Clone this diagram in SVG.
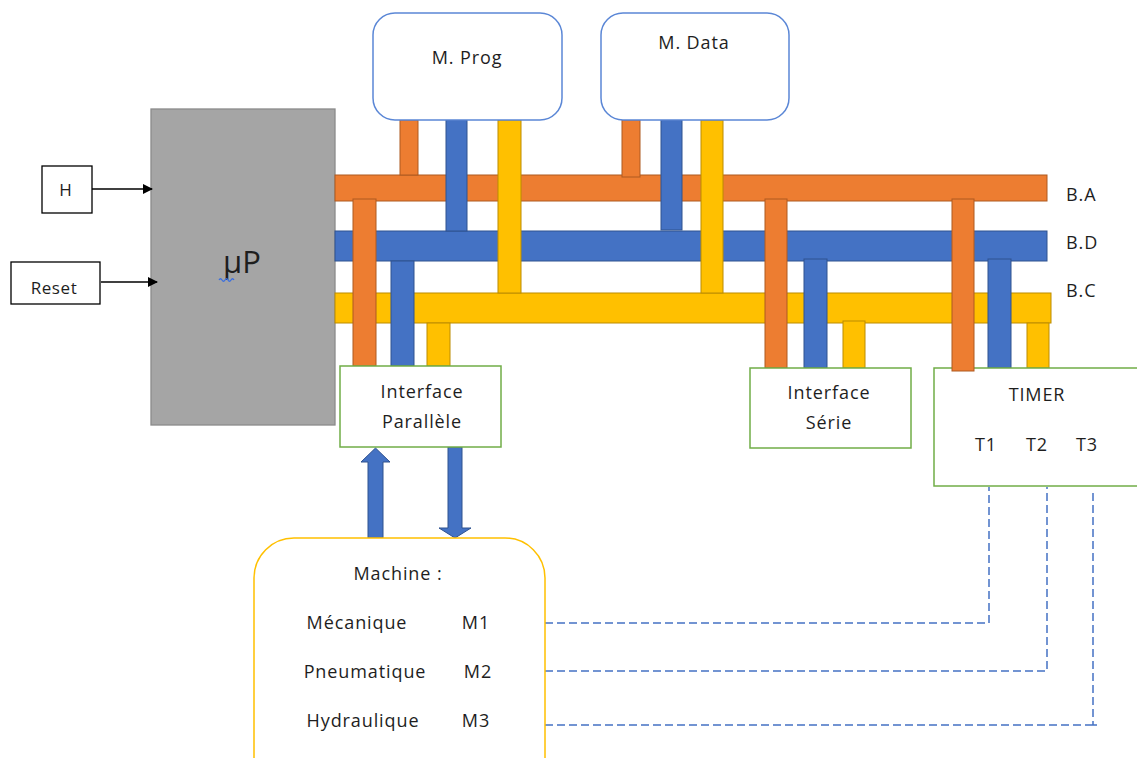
<svg xmlns="http://www.w3.org/2000/svg" width="1137" height="758" viewBox="0 0 1137 758">
<defs>
<style>
text{font-family:"Open Sans","Noto Sans","Liberation Sans",sans-serif;fill:#1e1e1e;font-size:18px;letter-spacing:0.9px}
.c{text-anchor:middle}
.or{fill:#ED7D31;stroke:#AE5A21;stroke-width:1}
.bl{fill:#4472C4;stroke:#2F528F;stroke-width:1}
.ye{fill:#FFC000;stroke:#BC8C00;stroke-width:1}
.mem{fill:#fff;stroke:#5B87D6;stroke-width:1.5}
.itf{fill:#fff;stroke:#70AD47;stroke-width:1.5}
.dash{fill:none;stroke:#4472C4;stroke-width:1.5;stroke-dasharray:8 4}
.wire{fill:none;stroke:#000;stroke-width:1.3}
</style>
<marker id="ah" viewBox="0 0 10 10" refX="9" refY="5" markerWidth="10" markerHeight="10" markerUnits="userSpaceOnUse" orient="auto">
<path d="M0,0 L10,5 L0,10 z" fill="#000"/>
</marker>
</defs>
<rect width="1137" height="758" fill="#fff"/>

<g id="H">
<rect x="42" y="166" width="50" height="47" fill="#fff" stroke="#000" stroke-width="1.3"/>
<text x="66" y="196" class="c" style="font-size:17px">H</text>
</g>
<g id="Reset">
<rect x="11" y="262" width="89" height="42" fill="#fff" stroke="#000" stroke-width="1.3"/>
<text x="54" y="294" class="c" style="font-size:17px;letter-spacing:0.6px">Reset</text>
</g>
<g id="uP">
<rect x="151" y="109" width="184" height="316" fill="#A5A5A5" stroke="#8A8A8A" stroke-width="1.3"/>
<text x="242" y="273" class="c" style="font-size:31px;letter-spacing:0">µP</text>
<path d="M219,280 q1.5,-2.5 3,0 t3,0 t3,0 t3,0 t3,0" fill="none" stroke="#3A6FE0" stroke-width="1.3"/>
</g>

<g id="connectors">
<line class="wire" x1="92" y1="189" x2="152" y2="189" marker-end="url(#ah)"/>
<line class="wire" x1="101" y1="282" x2="157" y2="282" marker-end="url(#ah)"/>
<!-- buses -->
<rect class="or" x="335" y="175" width="712" height="26"/>
<rect class="bl" x="335" y="231" width="712" height="30"/>
<rect class="ye" x="335" y="293" width="716" height="30"/>
<!-- memory stubs -->
<rect class="or" x="400" y="120" width="18" height="55"/>
<rect class="bl" x="446" y="120" width="21" height="111"/>
<rect class="ye" x="498" y="120" width="23" height="173"/>
<rect class="or" x="622" y="120" width="18" height="57"/>
<rect class="bl" x="661" y="120" width="21" height="110"/>
<rect class="ye" x="701" y="120" width="22" height="173"/>
<!-- interface parallele stubs -->
<rect class="or" x="353" y="199" width="23" height="167"/>
<rect class="bl" x="391" y="261" width="23" height="105"/>
<rect class="ye" x="427" y="323" width="23" height="43"/>
<!-- interface serie stubs -->
<rect class="or" x="765" y="199" width="22" height="169"/>
<rect class="bl" x="804" y="259" width="23" height="109"/>
<rect class="ye" x="843" y="321" width="22" height="47"/>
<!-- timer stubs -->
<rect class="bl" x="988" y="259" width="23" height="109"/>
<rect class="ye" x="1027" y="323" width="22" height="45"/>
<!-- block arrows -->
<polygon class="bl" points="375.5,448 390,462 383,462 383,538 368,538 368,462 361,462"/>
<polygon class="bl" points="448,447 462,447 462,528 471,528 455,538 439,528 448,528"/>
<!-- dashed timer links -->
<polyline class="dash" points="545,623 989,623 989,487"/>
<polyline class="dash" points="545,671 1047,671 1047,487"/>
<polyline class="dash" points="545,725 1097,725 1093,725 1093,491"/>
</g>

<g id="labels">
<text x="1066" y="201">B.A</text>
<text x="1066" y="249">B.D</text>
<text x="1066" y="297">B.C</text>
</g>

<g id="MProg">
<rect class="mem" x="373" y="13" width="189" height="107" rx="22"/>
<text x="467" y="64" class="c">M. Prog</text>
</g>
<g id="MData">
<rect class="mem" x="601" y="13" width="188" height="107" rx="22"/>
<text x="694" y="49" class="c">M. Data</text>
</g>
<g id="InterfaceParallele">
<rect class="itf" x="340" y="366" width="161" height="81"/>
<text x="422" y="398" class="c">Interface</text>
<text x="422" y="428" class="c">Parallèle</text>
</g>
<g id="InterfaceSerie">
<rect class="itf" x="750" y="368" width="161" height="80"/>
<text x="829" y="399" class="c">Interface</text>
<text x="829" y="429" class="c">Série</text>
</g>
<g id="TIMER">
<rect class="itf" x="934" y="368" width="210" height="118"/>
<text x="1037" y="401" class="c">TIMER</text>
<text x="986" y="451" class="c">T1</text>
<text x="1037" y="451" class="c">T2</text>
<text x="1087" y="451" class="c">T3</text>
<rect class="or" x="952" y="199" width="22" height="172"/>
</g>
<g id="Machine">
<rect x="254" y="538" width="291" height="260" rx="40" fill="#fff" stroke="#FFC000" stroke-width="1.5"/>
<text x="398" y="580" class="c">Machine :</text>
<text x="357" y="629" class="c">Mécanique</text>
<text x="476" y="629" class="c">M1</text>
<text x="365" y="678" class="c">Pneumatique</text>
<text x="478" y="678" class="c">M2</text>
<text x="363" y="727" class="c">Hydraulique</text>
<text x="476" y="727" class="c">M3</text>
</g>
</svg>
